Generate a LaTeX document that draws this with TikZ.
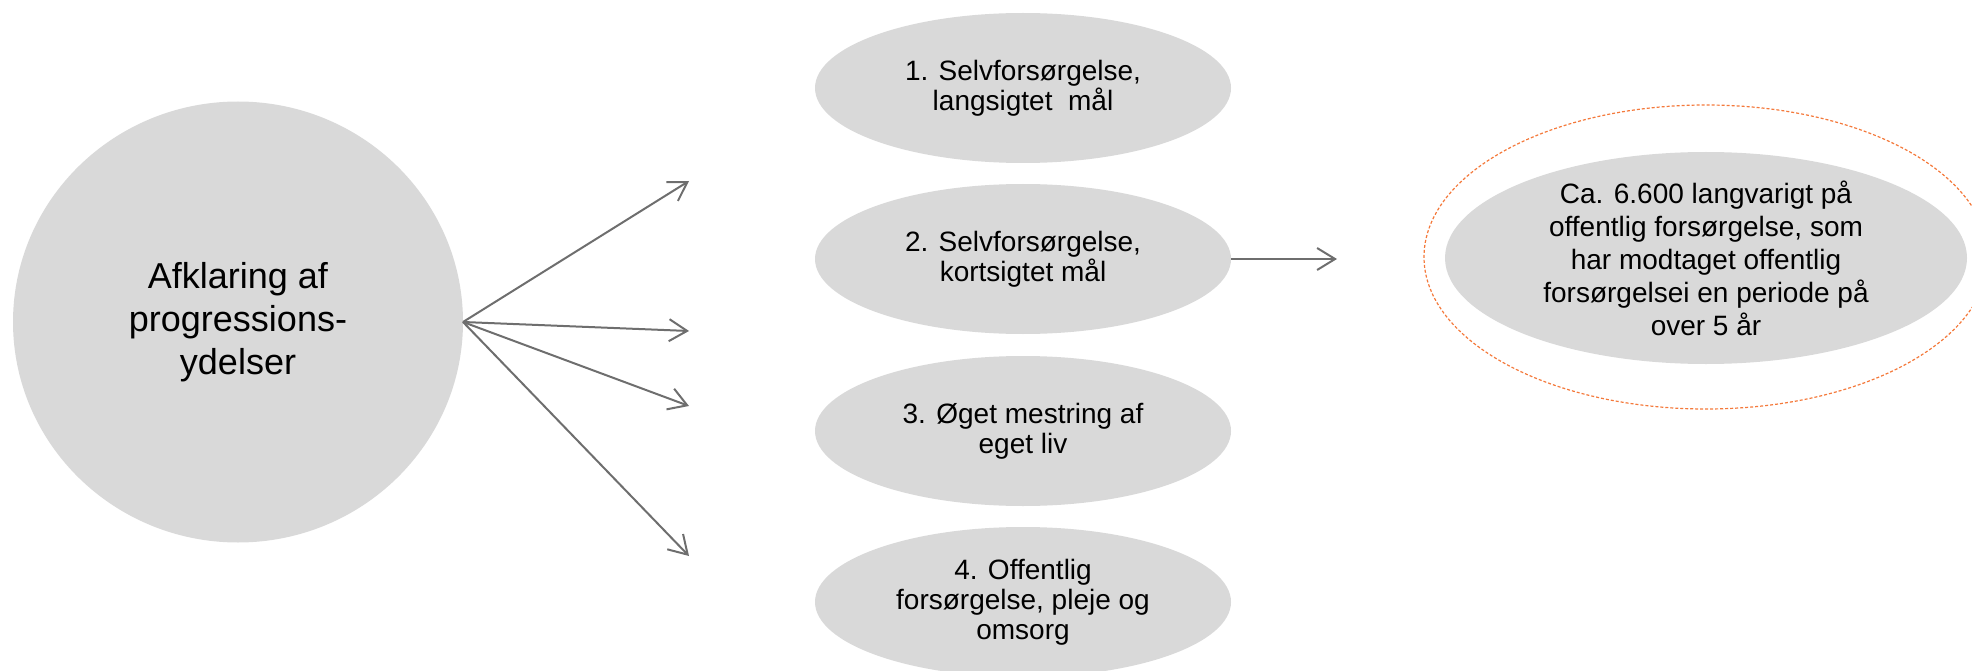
\documentclass[tikz,border=0pt]{standalone}
\usepackage{fontspec}
\setmainfont{Liberation Sans}
\usetikzlibrary{shapes.geometric,arrows.meta}
\definecolor{fillgray}{HTML}{D9D9D9}
\definecolor{arrowgray}{HTML}{6E6E6E}
\definecolor{dashorange}{HTML}{F4793B}
\begin{document}
\begin{tikzpicture}[x=1pt,y=-1pt,
  blob/.style={ellipse, fill=fillgray, inner xsep=0pt, inner ysep=-10pt, align=center, text=black},
  smalltext/.style={font=\fontsize{28}{30}\selectfont},
  goal/.style={blob, smalltext, minimum width=416pt, minimum height=150pt},
  link/.style={draw=arrowgray, line width=2pt, -{Straight Barb[length=18pt,width=22pt]}}
]
\useasboundingbox (0,0) rectangle (1972,671);
\clip (0,0) rectangle (1972,671);

\node[blob, minimum width=450pt, minimum height=441pt, font=\fontsize{36}{43}\selectfont] (main) at (238,322) {Afklaring af\\progressions-\\ydelser};

\node[goal] (e1) at (1023,88) {1. Selvforsørgelse,\\langsigtet\ \ mål};
\node[goal] (e2) at (1023,259) {2. Selvforsørgelse,\\kortsigtet mål};
\node[goal] (e3) at (1023,431) {3. Øget mestring af\\eget liv};
\node[goal] (e4) at (1023,602) {4. Offentlig\\forsørgelse, pleje og\\omsorg};

\node[ellipse, draw=dashorange, line width=1.2pt, dash pattern=on 3pt off 2pt, inner sep=0pt, minimum width=564pt, minimum height=304pt] (grp) at (1706,257) {};
\node[blob, font=\fontsize{28}{33}\selectfont, inner ysep=-30pt, minimum width=522pt, minimum height=212pt] (res) at (1706,258) {Ca. 6.600 langvarigt på\\offentlig forsørgelse, som\\har modtaget offentlig\\forsørgelsei en periode på\\over 5 år};

\coordinate (src) at (463,322);
\coordinate (t1) at (689,181);
\coordinate (t2) at (689,331);
\coordinate (t3) at (689,406);
\coordinate (t4) at (689,556);
\coordinate (t5) at (1337,259);

\draw[link] (src) -- (t1);
\draw[link] (src) -- (t2);
\draw[link] (src) -- (t3);
\draw[link] (src) -- (t4);
\draw[link] (e2.east) -- (t5);
\end{tikzpicture}
\end{document}
